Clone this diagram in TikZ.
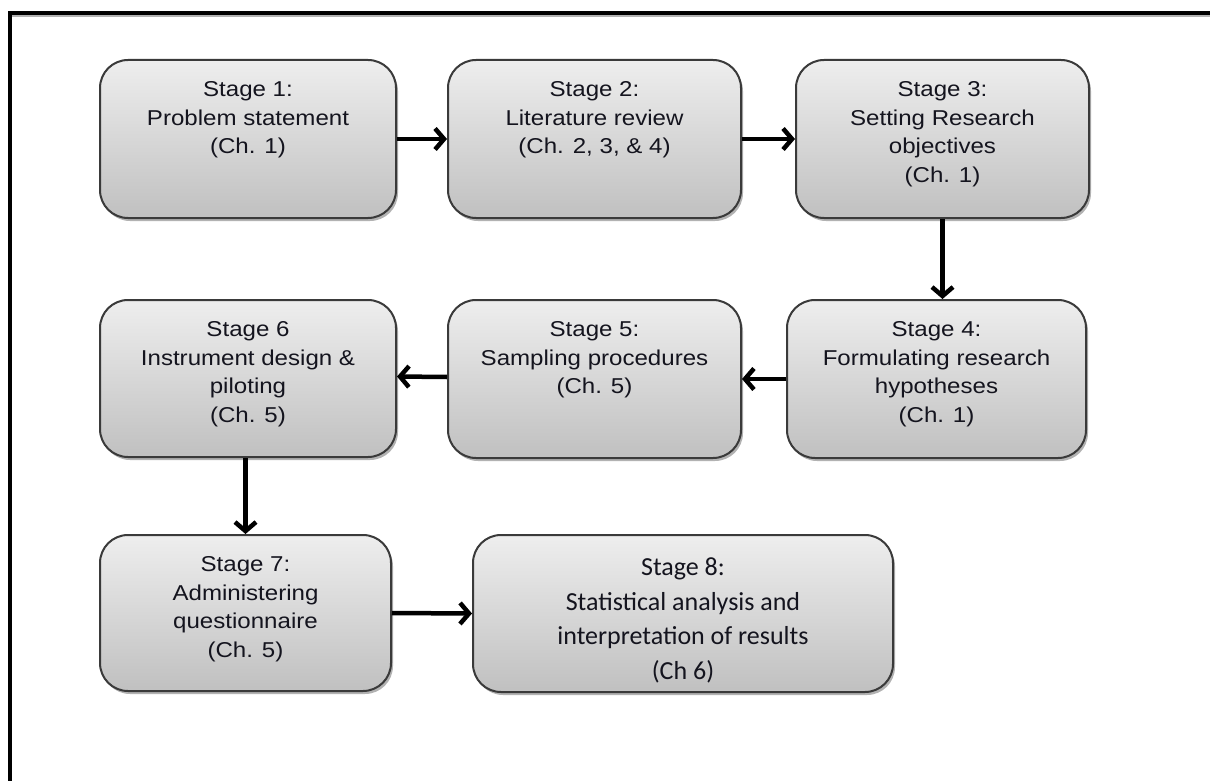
\documentclass[tikz,border=0pt]{standalone}
\usepackage{fontspec}
\setmainfont{Liberation Sans}[FakeStretch=1.12]
\newfontfamily\calibrilike{Carlito}
\usetikzlibrary{arrows.meta,shadows,calc}

\definecolor{boxtop}{HTML}{EEEEEE}
\definecolor{boxbot}{HTML}{C0C0C0}
\definecolor{boxline}{HTML}{3A3A3A}
\definecolor{ink}{HTML}{14141E}

\tikzset{
  stagebox/.style={
    draw=boxline, line width=2pt, rounded corners=28pt,
    top color=boxtop, bottom color=boxbot,
    drop shadow={shadow xshift=2pt, shadow yshift=-3pt, opacity=0.3, fill=black},
    inner sep=0pt, minimum height=158pt
  },
  stagetext/.style={
    anchor=north, inner sep=0pt, align=center, text=ink,
    font=\fontsize{21.5}{28.5}\selectfont
  },
  stagetextc/.style={
    anchor=north, inner sep=0pt, align=center, text=ink,
    font=\calibrilike\fontsize{26}{34.5}\selectfont
  },
  flow/.style={
    draw=black, line width=4.5pt,
    -{Straight Barb[length=9pt, width=21pt, line width=4.5pt]}
  }
}

\begin{document}
\begin{tikzpicture}[x=1pt, y=-1pt]
  \useasboundingbox (0,0) rectangle (1210,781);
  \fill[white] (0,0) rectangle (1210,781);

  % page frame: only its top and left edges fall inside the picture
  \draw[gray!60, line width=2pt] (12,16.5) -- (1210,16.5);
  \draw[black, line width=4pt] (10.3,13.3) -- (1210,13.3);
  \draw[black, line width=4pt] (10.3,11.3) -- (10.3,781);

  % stage boxes
  \node[stagebox, minimum width=296pt] (s1) at (248,139) {};
  \node[stagebox, minimum width=293pt] (s2) at (594.5,139) {};
  \node[stagebox, minimum width=293pt] (s3) at (942.5,139) {};
  \node[stagebox, minimum width=299pt] (s4) at (936.5,379) {};
  \node[stagebox, minimum width=293pt] (s5) at (594.5,379) {};
  \node[stagebox, minimum width=296pt, minimum height=157pt] (s6) at (248,378.5) {};
  \node[stagebox, minimum width=291pt, minimum height=156pt] (s7) at (245.5,613) {};
  \node[stagebox, minimum width=420pt, minimum height=157pt] (s8) at (683,613.5) {};

  % stage texts
  \node[stagetext] (t1) at ($(s1.north)+(0,22.5)$) {Stage 1:\\Problem statement\\(Ch. 1)};
  \node[stagetext] (t2) at ($(s2.north)+(0,22.5)$) {Stage 2:\\Literature review\\(Ch. 2, 3, \& 4)};
  \node[stagetext] (t3) at ($(s3.north)+(0,22.5)$) {Stage 3:\\Setting Research\\objectives\\(Ch. 1)};
  \node[stagetext] (t4) at ($(s4.north)+(0,22.5)$) {Stage 4:\\Formulating research\\hypotheses\\(Ch. 1)};
  \node[stagetext] (t5) at ($(s5.north)+(0,22.5)$) {Stage 5:\\Sampling procedures\\(Ch. 5)};
  \node[stagetext] (t6) at ($(s6.north)+(0,22.5)$) {Stage 6\\Instrument design \&\\piloting\\(Ch. 5)};
  \node[stagetext] (t7) at ($(s7.north)+(0,22.5)$) {Stage 7:\\Administering\\questionnaire\\(Ch. 5)};
  \node[stagetextc] (t8) at ($(s8.north)+(0,24)$) {Stage 8:\\Statistical analysis and\\interpretation of results\\(Ch 6)};

  % flow between stages
  \draw[flow] (s1.east) -- (s2.west);
  \draw[flow] (s2.east) -- (s3.west);
  \draw[flow] (s3.south) -- (s3.south |- s4.north);
  \draw[flow] (s4.west) -- (s5.east);
  \draw[flow] ([yshift=2pt]s5.west) -- ([yshift=2pt]s6.east);
  \draw[flow] (s7.north |- s6.south) -- (s7.north);
  \draw[flow] (s7.east) -- (s8.west);
\end{tikzpicture}
\end{document}
